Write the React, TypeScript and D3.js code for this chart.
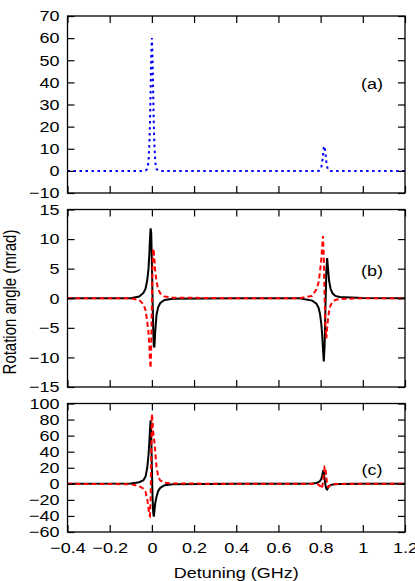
import React, { useEffect, useRef } from 'react'
import * as d3 from 'd3'

// detuning grid (GHz), dense around the two resonances
const detuning = [
  -0.4, -0.1,
  -0.06, -0.04, -0.03, -0.022, -0.016, -0.012, -0.009, -0.006, -0.003, 0,
  0.003, 0.006, 0.009, 0.012, 0.016, 0.022, 0.03, 0.04, 0.06,
  0.1, 0.4, 0.7,
  0.76, 0.78, 0.79, 0.797, 0.803, 0.807, 0.811, 0.815, 0.819, 0.823,
  0.827, 0.831, 0.835, 0.84, 0.847, 0.857, 0.87, 0.89,
  1.0, 1.2,
]

// (a) blue dotted
const signalA = [
  0, 0,
  0, 0, 0.1, 0.8, 4, 12, 21, 36, 52, 60,
  52, 36, 21, 12, 4, 0.8, 0.1, 0, 0,
  0, 0, 0,
  0, 0, 0, 0.3, 1.5, 3.5, 7, 10.5, 11.2, 8,
  4.2, 1.8, 0.6, 0.1, 0, 0, 0, 0,
  0, 0,
]

// (b) black solid
const signalBSolid = [
  0, 0,
  0.3, 0.9, 1.6, 3, 5, 7.5, 10, 11.8, 11, 6,
  0.5, -5, -8, -8.3, -5.5, -2.8, -1.5, -0.8, -0.3,
  -0.1, 0, 0,
  -0.4, -0.9, -1.6, -2.6, -4.3, -6, -8.5, -10.7, -8, -1.5,
  4.5, 6.8, 5, 3, 1.6, 0.8, 0.4, 0.2,
  0.05, 0,
]

// (b) red dashed
const signalBDashed = [
  0, 0,
  -0.3, -1, -2, -4, -5.8, -8, -10.5, -11.8, -8, -1,
  5, 8.4, 8, 6.5, 4.5, 2.8, 1.5, 0.8, 0.3,
  0.1, 0, 0,
  0.4, 1.5, 2.6, 4.5, 6.5, 8.5, 10.5, 7, 0, -5,
  -6.8, -5, -3.5, -2.2, -1.2, -0.6, -0.3, -0.15,
  0, 0,
]

// (c) black solid
const signalCSolid = [
  0, 0.5,
  2, 4.5, 9, 20, 36, 52, 68, 79, 60, 20,
  -15, -35, -41, -34, -24, -16, -9, -5, -1.8,
  -0.5, 0, 0,
  0.3, 1, 2, 3.5, 6, 10, 15, 14, 6, -2,
  -6, -7, -5, -3, -1.6, -0.8, -0.4, -0.2,
  0, 0,
]

// (c) red dashed
const signalCDashed = [
  0, -0.5,
  -3, -6, -10, -19, -30, -39, -40, -20, 35, 87,
  80, 65, 58, 52, 40, 21, 9, 4, 1.5,
  0.4, 0, 0,
  0, -0.5, -1, -2.5, -6, -5, 2, 12, 21, 20,
  8, -2, -4, -3, -1.5, -0.7, -0.3, -0.1,
  0, 0,
]

const xTicks = [-0.4, -0.2, 0, 0.2, 0.4, 0.6, 0.8, 1, 1.2]
const yTicksA = [-10, 0, 10, 20, 30, 40, 50, 60, 70]
const yTicksB = [-15, -10, -5, 0, 5, 10, 15]
const yTicksC = [-60, -40, -20, 0, 20, 40, 60, 80, 100]

const W = 415
const H = 581
const left = 67.5
const right = 405
const stretch = 1.2 // text in the reference is a bit wider than it is tall
const fontSize = 15
const font = '"Liberation Sans", Arial, Helvetica, sans-serif'

const panels = [
  { top: 16, bottom: 193, domain: [-10, 70], ticks: yTicksA, label: '(a)', labelY: 84 },
  { top: 209.5, bottom: 387, domain: [-15, 15], ticks: yTicksB, label: '(b)', labelY: 271 },
  { top: 403.5, bottom: 532, domain: [-60, 100], ticks: yTicksC, label: '(c)', labelY: 470 },
]

const App = () => {
  const ref = useRef<SVGSVGElement>(null)

  useEffect(() => {
    const svg = d3.select(ref.current)
    svg.selectAll('*').remove()

    const x = d3.scaleLinear().domain([-0.4, 1.2]).range([left, right])

    const series = [
      [{ values: signalA, color: '#0000ff', dash: '2.5,3.5' }],
      [
        { values: signalBSolid, color: '#000', dash: null },
        { values: signalBDashed, color: '#ff0000', dash: '5,3' },
      ],
      [
        { values: signalCSolid, color: '#000', dash: null },
        { values: signalCDashed, color: '#ff0000', dash: '5,3' },
      ],
    ]

    panels.forEach((p, i) => {
      const y = d3.scaleLinear().domain(p.domain).range([p.bottom, p.top])
      const g = svg.append('g')

      const line = d3
        .line<number>()
        .x((d, j) => x(detuning[j]))
        .y(d => y(d))

      series[i].forEach(s => {
        g.append('path')
          .datum(s.values)
          .attr('d', line)
          .attr('fill', 'none')
          .attr('stroke', s.color)
          .attr('stroke-width', 2)
          .attr('stroke-dasharray', s.dash)
      })

      // inward ticks, gnuplot style
      const yAxis = (sel, right) =>
        sel.call(
          (right ? d3.axisRight(y) : d3.axisLeft(y))
            .tickValues(p.ticks)
            .tickSize(-7)
            .tickSizeOuter(0)
            .tickPadding(8),
        )

      g.append('g').attr('transform', `translate(${left},0)`).call(yAxis, false)
      g.append('g')
        .attr('transform', `translate(${right},0)`)
        .call(yAxis, true)
        .selectAll('text')
        .remove()

      const xAxisBottom = g
        .append('g')
        .attr('transform', `translate(0,${p.bottom})`)
        .call(d3.axisBottom(x).tickValues(xTicks).tickSize(-7).tickSizeOuter(0).tickPadding(10).tickFormat(d3.format('')))
      if (i < 2) xAxisBottom.selectAll('text').remove()

      g.append('g')
        .attr('transform', `translate(0,${p.top})`)
        .call(d3.axisTop(x).tickValues(xTicks).tickSize(-7).tickSizeOuter(0))
        .selectAll('text')
        .remove()

      g.selectAll('.domain').remove()
      g.selectAll('.tick line').attr('stroke', '#000').attr('stroke-width', 1.2)
      g.selectAll('.tick text')
        .attr('font-family', font)
        .attr('font-size', fontSize)
        .attr('fill', '#000')
        .attr('transform', `scale(${stretch},1)`)
        .each(function () {
          const t = d3.select(this)
          const tx = +t.attr('x') || 0
          t.attr('x', tx / stretch)
        })

      g.append('rect')
        .attr('x', left)
        .attr('y', p.top)
        .attr('width', right - left)
        .attr('height', p.bottom - p.top)
        .attr('fill', 'none')
        .attr('stroke', '#000')
        .attr('stroke-width', 1.3)

      g.append('text')
        .attr('transform', `translate(372,${p.labelY}) scale(${stretch},1)`)
        .attr('text-anchor', 'middle')
        .attr('dy', '0.35em')
        .attr('font-family', font)
        .attr('font-size', fontSize)
        .text(p.label)
    })

    svg.append('text') // x title
      .attr('transform', `translate(${(left + right) / 2},578) scale(${stretch},1)`)
      .attr('text-anchor', 'middle')
      .attr('font-family', font)
      .attr('font-size', fontSize)
      .text('Detuning (GHz)')

    svg.append('text') // y title
      .attr('transform', `translate(16,302) rotate(-90) scale(1,${stretch})`)
      .attr('text-anchor', 'middle')
      .attr('font-family', font)
      .attr('font-size', fontSize)
      .text('Rotation angle (mrad)')
  }, [])

  return (
    <svg
      ref={ref}
      width={W}
      height={H}
      style={{ position: 'absolute', left: 0, top: 0, background: '#fff' }}
    />
  )
}

export default App
